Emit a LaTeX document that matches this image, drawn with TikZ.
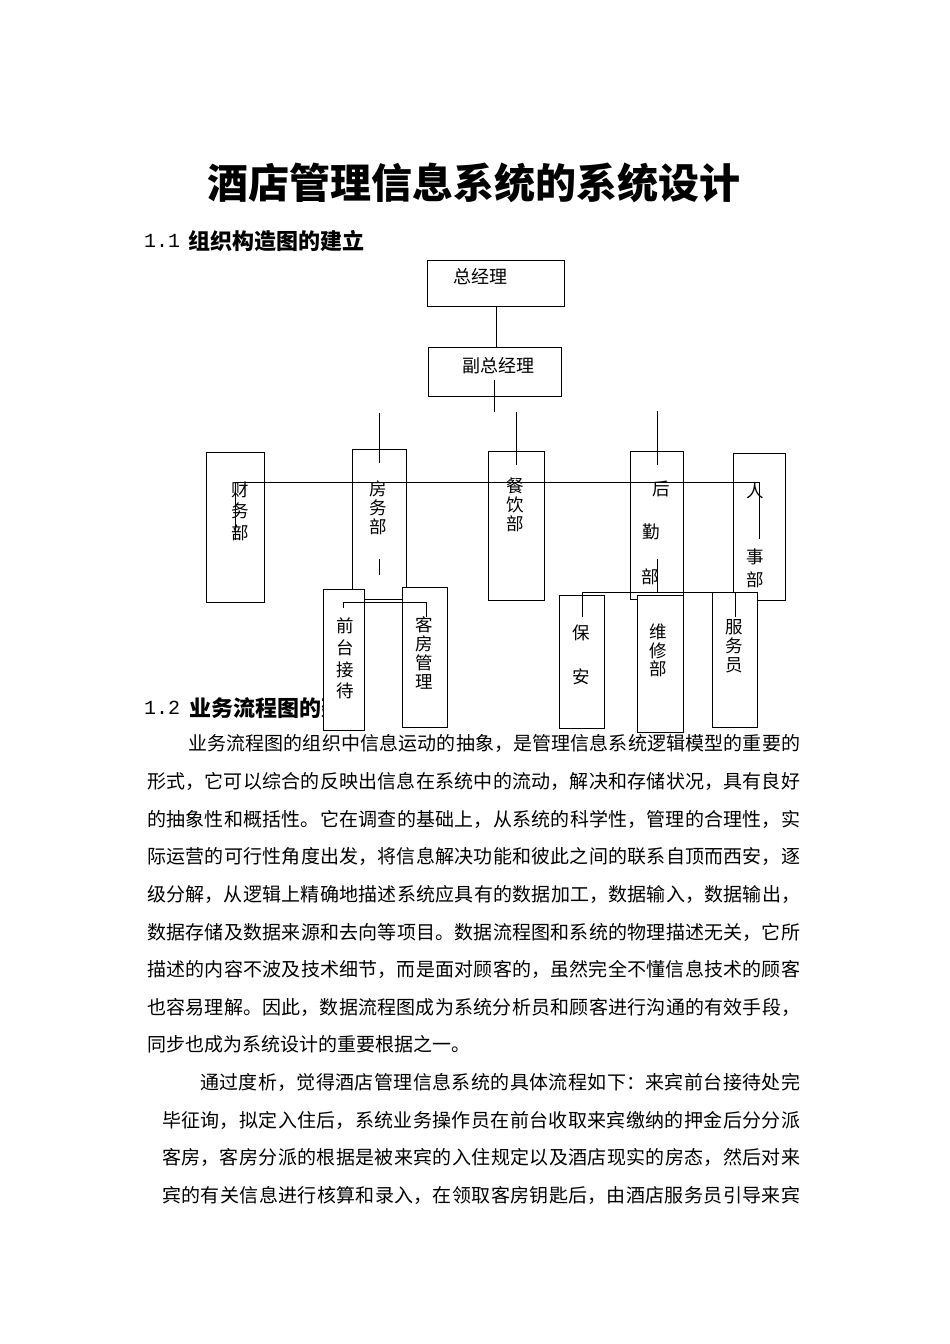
\documentclass[tikz,border=0pt]{standalone}
\usepackage{fontspec}
\setmainfont{Liberation Serif}
\newfontfamily\cjk{Noto Sans CJK SC}
\newfontfamily\digitfont{Liberation Mono}
\XeTeXlinebreaklocale "zh"
\XeTeXlinebreakskip=0pt plus 4pt
\newcommand\bodyfont{\cjk\fontsize{19}{19}\selectfont}
\newcommand\jline[2]{\parbox[c]{#1pt}{\parfillskip=0pt\relax\bodyfont #2}}
\tikzset{
  box/.style={draw, line width=1.1pt, fill=white, inner sep=0pt, anchor=north west},
  ln/.style={line width=0.9pt},
  vt/.style={inner sep=0pt, align=center, font=\cjk\fontsize{17.5}{#1}\selectfont},
  htext/.style={inner sep=0pt, anchor=west, font=\cjk\fontsize{18}{18}\selectfont},
  body/.style={inner sep=0pt, anchor=west},
  head/.style={inner sep=0pt, anchor=west, font=\cjk\bfseries\fontsize{22}{22}\selectfont},
  headnum/.style={inner sep=0pt, anchor=west, font=\digitfont\fontsize{20}{20}\selectfont},
}
\begin{document}
\begin{tikzpicture}[x=1pt, y=-1pt]
\fill[white] (0,0) rectangle (950,1344);
\useasboundingbox (0,0) rectangle (950,1344);

% title and headings
\node[inner sep=0pt, font=\cjk\bfseries\fontsize{41}{41}\selectfont] (title) at (474,183) {酒店管理信息系统的系统设计};
\node[headnum] (n11) at (144,241) {1.1};
\node[head] (h11) at (188,241) {组织构造图的建立};
\node[headnum] (n12) at (144,708) {1.2};
\node[head] (h12) at (189,708) {业务流程图的建立};

% body text
\node[body] (l1) at (188,743) {\jline{612}{业务流程图的组织中信息运动的抽象，是管理信息系统逻辑模型的重要的}};
\node[body] (l2) at (147,781) {\jline{653}{形式，它可以综合的反映出信息在系统中的流动，解决和存储状况，具有良好}};
\node[body] (l3) at (147,819) {\jline{653}{的抽象性和概括性。它在调查的基础上，从系统的科学性，管理的合理性，实}};
\node[body] (l4) at (147,856) {\jline{653}{际运营的可行性角度出发，将信息解决功能和彼此之间的联系自顶而西安，逐}};
\node[body] (l5) at (147,894) {\jline{653}{级分解，从逻辑上精确地描述系统应具有的数据加工，数据输入，数据输出，}};
\node[body] (l6) at (147,932) {\jline{653}{数据存储及数据来源和去向等项目。数据流程图和系统的物理描述无关，它所}};
\node[body] (l7) at (147,969) {\jline{653}{描述的内容不波及技术细节，而是面对顾客的，虽然完全不懂信息技术的顾客}};
\node[body] (l8) at (147,1007) {\jline{653}{也容易理解。因此，数据流程图成为系统分析员和顾客进行沟通的有效手段，}};
\node[body, font=\bodyfont] (l9) at (147,1044) {同步也成为系统设计的重要根据之一。};
\node[body] (m1) at (200,1082) {\jline{600}{通过度析，觉得酒店管理信息系统的具体流程如下：来宾前台接待处完}};
\node[body] (m2) at (162,1120) {\jline{638}{毕征询，拟定入住后，系统业务操作员在前台收取来宾缴纳的押金后分分派}};
\node[body] (m3) at (162,1157) {\jline{638}{客房，客房分派的根据是被来宾的入住规定以及酒店现实的房态，然后对来}};
\node[body] (m4) at (162,1195) {\jline{638}{宾的有关信息进行核算和录入，在领取客房钥匙后，由酒店服务员引导来宾}};

% top boxes
\node[box, minimum width=137pt, minimum height=46pt] (gm) at (427,260) {};
\node[box, minimum width=133pt, minimum height=49pt] (vgm) at (428,347) {};
\node[htext] (tgm) at (453,277) {总经理};
\node[htext] (tvgm) at (462,366) {副总经理};

% department boxes
\node[box, minimum width=58pt, minimum height=150pt] (cw) at (206,452) {};
\node[box, minimum width=54pt, minimum height=150pt] (fw) at (352,449) {};
\node[box, minimum width=56pt, minimum height=149pt] (cy) at (488,451) {};
\node[box, minimum width=53pt, minimum height=148pt] (hq) at (630,451) {};
\node[box, minimum width=52pt, minimum height=147pt] (rs) at (733,453) {};

\node[vt=21.5] (tcw) at (240,511) {财\\务\\部};
\node[vt=19] (tfw) at (378.5,508) {房\\务\\部};
\node[vt=19] (tcy) at (515.5,505) {餐\\饮\\部};
\node[vt=18] (thq1) at (661.5,489) {后};
\node[vt=18] (thq2) at (651,532) {勤};
\node[vt=18] (thq3) at (650,577) {部};
\node[vt=18] (trs1) at (755,491) {人};
\node[vt=18] (trs2) at (755,557) {事};
\node[vt=18] (trs3) at (755,580) {部};

% sub boxes
\node[box, minimum width=41pt, minimum height=141pt] (qt) at (323,589) {};
\node[box, minimum width=45pt, minimum height=140pt] (kf) at (402,587) {};
\node[box, minimum width=45pt, minimum height=133pt] (ba) at (559,595) {};
\node[box, minimum width=46pt, minimum height=137pt] (wx) at (637,595) {};
\node[box, minimum width=45pt, minimum height=135pt] (fy) at (712,592) {};

\node[vt=21.7] (tqt) at (345,658.5) {前\\台\\接\\待};
\node[vt=19.3] (tkf) at (424,653) {客\\房\\管\\理};
\node[vt=18] (tba1) at (581,633) {保};
\node[vt=18] (tba2) at (581,677) {安};
\node[vt=18.5] (twx) at (658.5,650.5) {维\\修\\部};
\node[vt=19] (tfy) at (734,646) {服\\务\\员};

% connectors
\coordinate (a1) at (494,380); \coordinate (a2) at (494,412);
\coordinate (b1) at (379,413); \coordinate (b2) at (379,463);
\coordinate (c1) at (516,412); \coordinate (c2) at (516,465);
\coordinate (d1) at (657,411); \coordinate (d2) at (657,465);
\coordinate (h1) at (235,482); \coordinate (h2) at (759,482);
\coordinate (h3) at (235,540); \coordinate (h4) at (759,539);
\coordinate (e1) at (379,559); \coordinate (e2) at (379,575);
\coordinate (f1) at (343,608); \coordinate (f2) at (343,602);
\coordinate (f3) at (426,602); \coordinate (f4) at (426,617);
\coordinate (g1) at (657,559); \coordinate (g2) at (657,593);
\coordinate (k1) at (582,617); \coordinate (k2) at (582,592);
\coordinate (k3) at (735,592); \coordinate (k4) at (735,617);

\draw[ln] (gm.south) -- (gm.south |- vgm.north);
\draw[ln] (a1) -- (a2);
\draw[ln] (b1) -- (b2);
\draw[ln] (c1) -- (c2);
\draw[ln] (d1) -- (d2);
\draw[ln] (h1) -- (h2);
\draw[ln] (h1) -- (h3);
\draw[ln] (h2) -- (h4);
\draw[ln] (e1) -- (e2);
\draw[ln] (f1) -- (f2) -- (f3) -- (f4);
\draw[ln] (g1) -- (g2);
\draw[ln] (k1) -- (k2) -- (k3) -- (k4);
\end{tikzpicture}
\end{document}
